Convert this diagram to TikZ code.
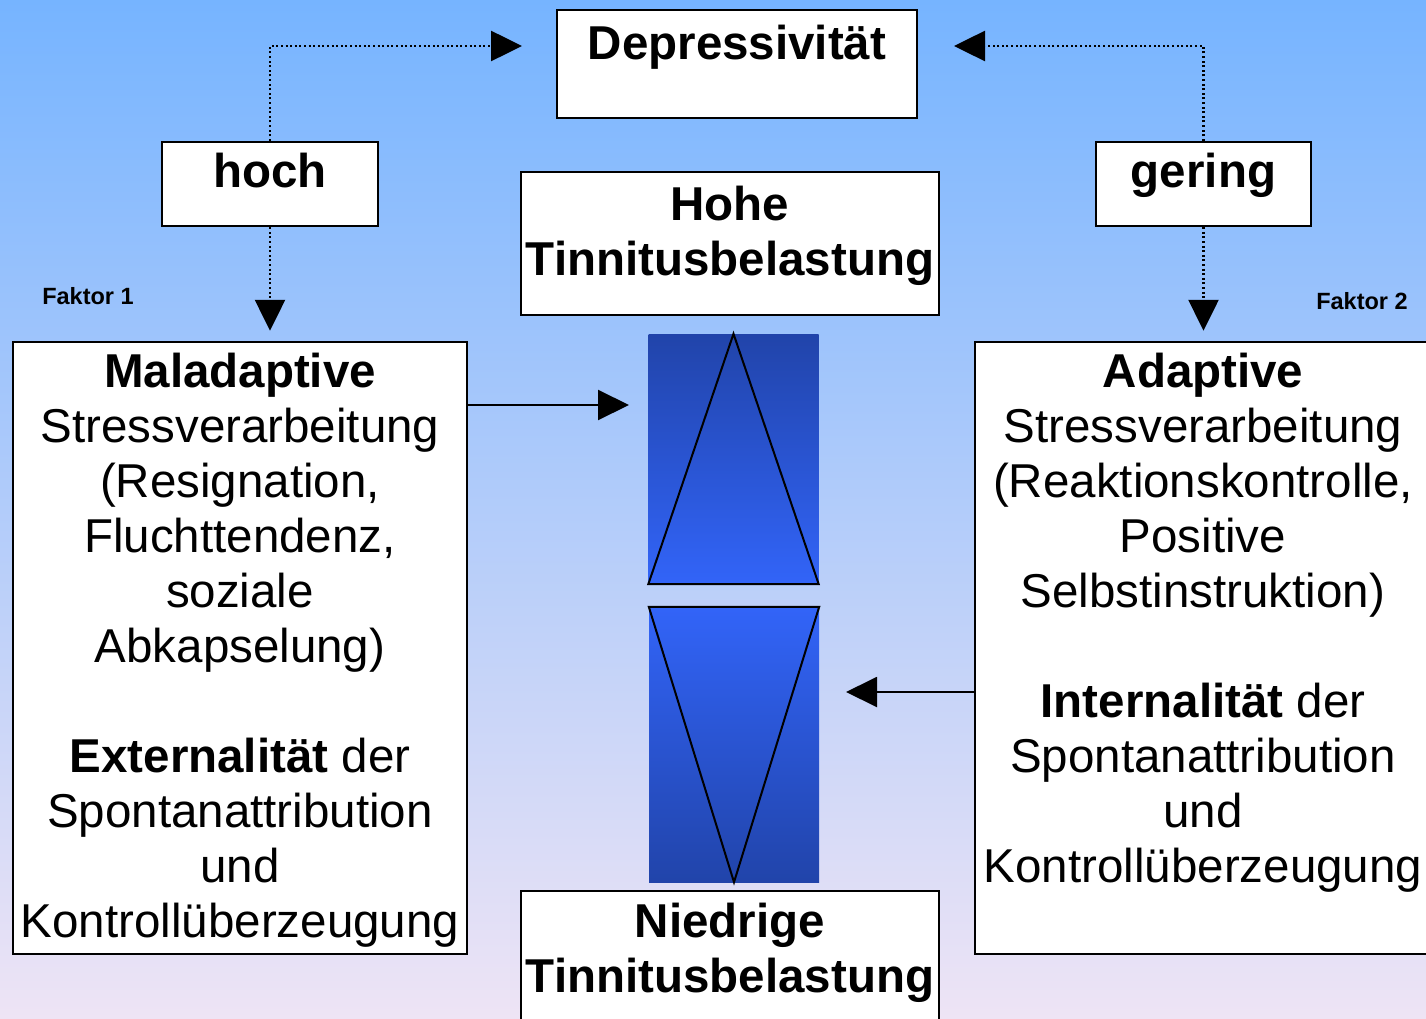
\documentclass[tikz,border=0pt]{standalone}
\usepackage{fontspec}
\setmainfont{Liberation Sans}
\usetikzlibrary{arrows.meta}
\definecolor{bgtop}{RGB}{118,180,255}
\definecolor{bgbot}{RGB}{238,228,245}
\definecolor{barDark}{RGB}{33,68,170}
\definecolor{barLight}{RGB}{50,100,248}
\newcommand{\bigfont}{\fontsize{47.5}{55}\selectfont}

\begin{document}
\begin{tikzpicture}[x=1pt, y=-1pt, font=\bigfont,
  box/.style={draw, fill=white, line width=2.5pt, inner sep=0pt, align=center},
  bar/.style={inner sep=0pt, minimum width=170pt},
  dots/.style={line width=2.6pt, dash pattern=on 2pt off 2.6pt, -{Triangle[length=31pt,width=30pt]}},
  arr/.style={line width=2pt, -{Triangle[length=31pt,width=30pt]}},
  tri/.style={line width=2pt, line join=miter}]
\shade[top color=bgtop, bottom color=bgbot] (0,0) rectangle (1426,1019);
\useasboundingbox (0,0) rectangle (1426,1019);

% top row
\node[box, minimum width=360pt, minimum height=108pt, text height=34pt, text depth=42pt, font=\bigfont\bfseries] (dep) at (737,64) {Depressivität};
\node[box, minimum width=216pt, minimum height=84pt, text height=34pt, text depth=26pt, font=\bigfont\bfseries] (hoch) at (270,184) {hoch};
\node[box, minimum width=215pt, minimum height=84pt, text height=34pt, text depth=26pt, font=\bigfont\bfseries] (gering) at (1203.5,184) {gering};
\node[box, minimum width=418pt, minimum height=143pt, text height=90pt, text depth=27pt, font=\bigfont\bfseries] (hohe) at (730,243.5) {Hohe\\Tinnitusbelastung};
\node[box, minimum width=418pt, minimum height=149pt, text height=90pt, text depth=37pt, font=\bigfont\bfseries] (niedrig) at (730,965.5) {Niedrige\\Tinnitusbelastung};
\node[font=\fontsize{23.5}{28}\selectfont\bfseries] (f1) at (88,296) {Faktor 1};
\node[font=\fontsize{23.5}{28}\selectfont\bfseries] (f2) at (1362,301) {Faktor 2};

% the two factor boxes
\node[box, minimum width=454pt, minimum height=612pt, text height=595pt, text depth=17pt] (mal) at (240,648) {\textbf{Maladaptive}\\Stressverarbeitung\\(Resignation,\\Fluchttendenz,\\soziale\\Abkapselung)\\[55pt]\textbf{Externalität} der\\Spontanattribution\\und\\Kontrollüberzeugung};
\node[box, minimum width=456pt, minimum height=612pt, text height=536pt, text depth=68pt] (adp) at (1203,648) {\textbf{Adaptive}\\Stressverarbeitung\\(Reaktionskontrolle,\\Positive\\Selbstinstruktion)\\[55pt]\textbf{Internalität} der\\Spontanattribution\\und\\Kontrollüberzeugung};

% bars with triangles
\node[bar, minimum height=250pt, top color=barDark, bottom color=barLight] (up) at (733.5,459) {};
\draw[tri] (up.south west) -- (up.north) -- (up.south east) -- cycle;
\node[bar, minimum height=275pt, top color=barLight, bottom color=barDark] (down) at (734,744.5) {};
\draw[tri] (down.north west) -- (down.north east) -- (down.south) -- cycle;

% connectors
\coordinate (depL) at (522,46); \coordinate (depR) at (954,46);
\draw[dots] (hoch.north) |- (depL);
\draw[dots] (gering.north) |- (depR);
\draw[dots] (hoch.south) -- ([yshift=10pt]hoch.south |- mal.north);
\draw[dots] (gering.south) -- ([yshift=10pt]gering.south |- adp.north);
\coordinate (tipL) at (629,405); \coordinate (tipR) at (846,692);
\draw[arr] (mal.east |- tipL) -- (tipL);
\draw[arr] (adp.west |- tipR) -- (tipR);
\end{tikzpicture}
\end{document}
